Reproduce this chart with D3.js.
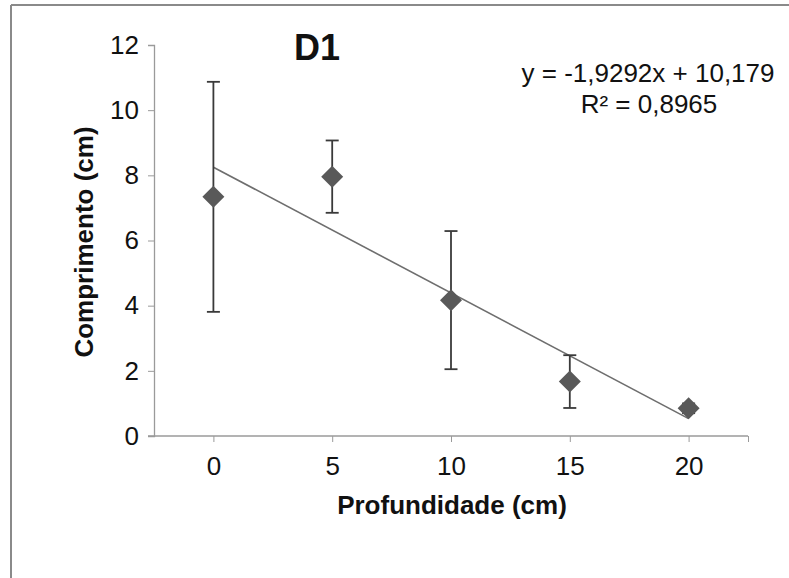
<!DOCTYPE html>
<html lang="pt">
<head>
  <meta charset="UTF-8">
  <title>D1 - Comprimento x Profundidade</title>
  <script src="https://d3js.org/d3.v7.min.js"></script>
  <style>
    body { margin: 0; background: #fff; }
    svg text { font-family: "Liberation Sans", Arial, sans-serif; fill: #111; }
  </style>
</head>
<body>
  <svg width="789" height="578"></svg>

  <script>
  // data
  const depths = ["0", "5", "10", "15", "20"];
  const means = [7.34, 7.96, 4.17, 1.67, 0.85];
  const errors = [3.53, 1.11, 2.12, 0.81, 0.15];
  const yTicks = [0, 2, 4, 6, 8, 10, 12];
  // Excel trendline, x = category index (1..5)
  const slope = -1.9292, intercept = 10.179;

  const svg = d3.select("svg");
  const font = "Liberation Sans, Arial, sans-serif";

  // frame of the original screenshot
  svg.append("line").attr("x1", 11).attr("y1", 5).attr("x2", 789).attr("y2", 5)
    .attr("stroke", "#8a8a8a").attr("stroke-width", 2);
  svg.append("line").attr("x1", 11).attr("y1", 5).attr("x2", 11).attr("y2", 578)
    .attr("stroke", "#8a8a8a").attr("stroke-width", 2);

  const plotLeft = 154, plotRight = 748, plotTop = 45, plotBottom = 436;

  const x = d3.scaleLinear().domain([0.5, depths.length + 0.5]).range([plotLeft, plotRight]);
  const y = d3.scaleLinear().domain([0, 12]).range([plotBottom, plotTop]);

  // y axis
  const yAxis = svg.append("g")
    .attr("transform", `translate(${plotLeft},0)`)
    .call(d3.axisLeft(y).tickValues(yTicks).tickSize(6).tickPadding(9));
  yAxis.select(".domain").attr("stroke", "#9a9a9a").attr("stroke-width", 1.3);
  yAxis.selectAll(".tick line").attr("stroke", "#9a9a9a");
  yAxis.selectAll("text").attr("font-size", "26px").attr("fill", "#111")
    .attr("font-family", font);

  // x axis (category centres plus the end tick)
  const xAxis = svg.append("g")
    .attr("transform", `translate(0,${plotBottom})`)
    .call(d3.axisBottom(x)
      .tickValues([1, 2, 3, 4, 5, depths.length + 0.5])
      .tickFormat(d => depths[d - 1] || "")
      .tickSize(6).tickSizeOuter(0).tickPadding(15));
  xAxis.select(".domain").attr("stroke", "#9a9a9a").attr("stroke-width", 1.3)
    .attr("d", `M${plotLeft - 6},0H${plotRight}`);
  xAxis.selectAll(".tick line").attr("stroke", "#9a9a9a");
  xAxis.selectAll("text").attr("font-size", "26px").attr("fill", "#111")
    .attr("font-family", font);

  // trendline
  svg.append("line")
    .attr("x1", x(1)).attr("y1", y(slope * 1 + intercept))
    .attr("x2", x(5)).attr("y2", y(slope * 5 + intercept))
    .attr("stroke", "#6e6e6e").attr("stroke-width", 1.6);

  const pts = means.map((m, i) => ({ i: i + 1, m, e: errors[i] }));

  // error bars
  const eb = svg.append("g").selectAll("g").data(pts).join("g");
  eb.append("line")
    .attr("x1", d => x(d.i)).attr("x2", d => x(d.i))
    .attr("y1", d => y(d.m + d.e)).attr("y2", d => y(d.m - d.e))
    .attr("stroke", "#3a3a3a").attr("stroke-width", 1.8);
  eb.selectAll(".cap").data(d => [d.m + d.e, d.m - d.e].map(v => ({ i: d.i, v })))
    .join("line")
    .attr("x1", d => x(d.i) - 6.5).attr("x2", d => x(d.i) + 6.5)
    .attr("y1", d => y(d.v)).attr("y2", d => y(d.v))
    .attr("stroke", "#3a3a3a").attr("stroke-width", 1.8);

  // diamond markers
  svg.append("g").selectAll("path").data(pts).join("path")
    .attr("d", d => {
      const cx = x(d.i), cy = y(d.m), r = 11;
      return `M${cx},${cy - r}L${cx + r},${cy}L${cx},${cy + r}L${cx - r},${cy}Z`;
    })
    .attr("fill", "#595959");

  // title and labels
  svg.append("text").attr("x", 317).attr("y", 60).attr("text-anchor", "middle")
    .attr("font-size", "36px").attr("font-weight", "bold").text("D1");

  svg.append("text").attr("x", 648).attr("y", 82).attr("text-anchor", "middle")
    .attr("font-size", "26px").text("y = -1,9292x + 10,179");
  svg.append("text").attr("x", 649).attr("y", 113).attr("text-anchor", "middle")
    .attr("font-size", "26px").text("R² = 0,8965");

  svg.append("text").attr("x", 452).attr("y", 514).attr("text-anchor", "middle")
    .attr("font-size", "26px").attr("font-weight", "bold").text("Profundidade (cm)");

  svg.append("text")
    .attr("transform", "translate(93,242) rotate(-90)")
    .attr("text-anchor", "middle")
    .attr("font-size", "26px").attr("font-weight", "bold").text("Comprimento (cm)");
  </script>
</body>
</html>
